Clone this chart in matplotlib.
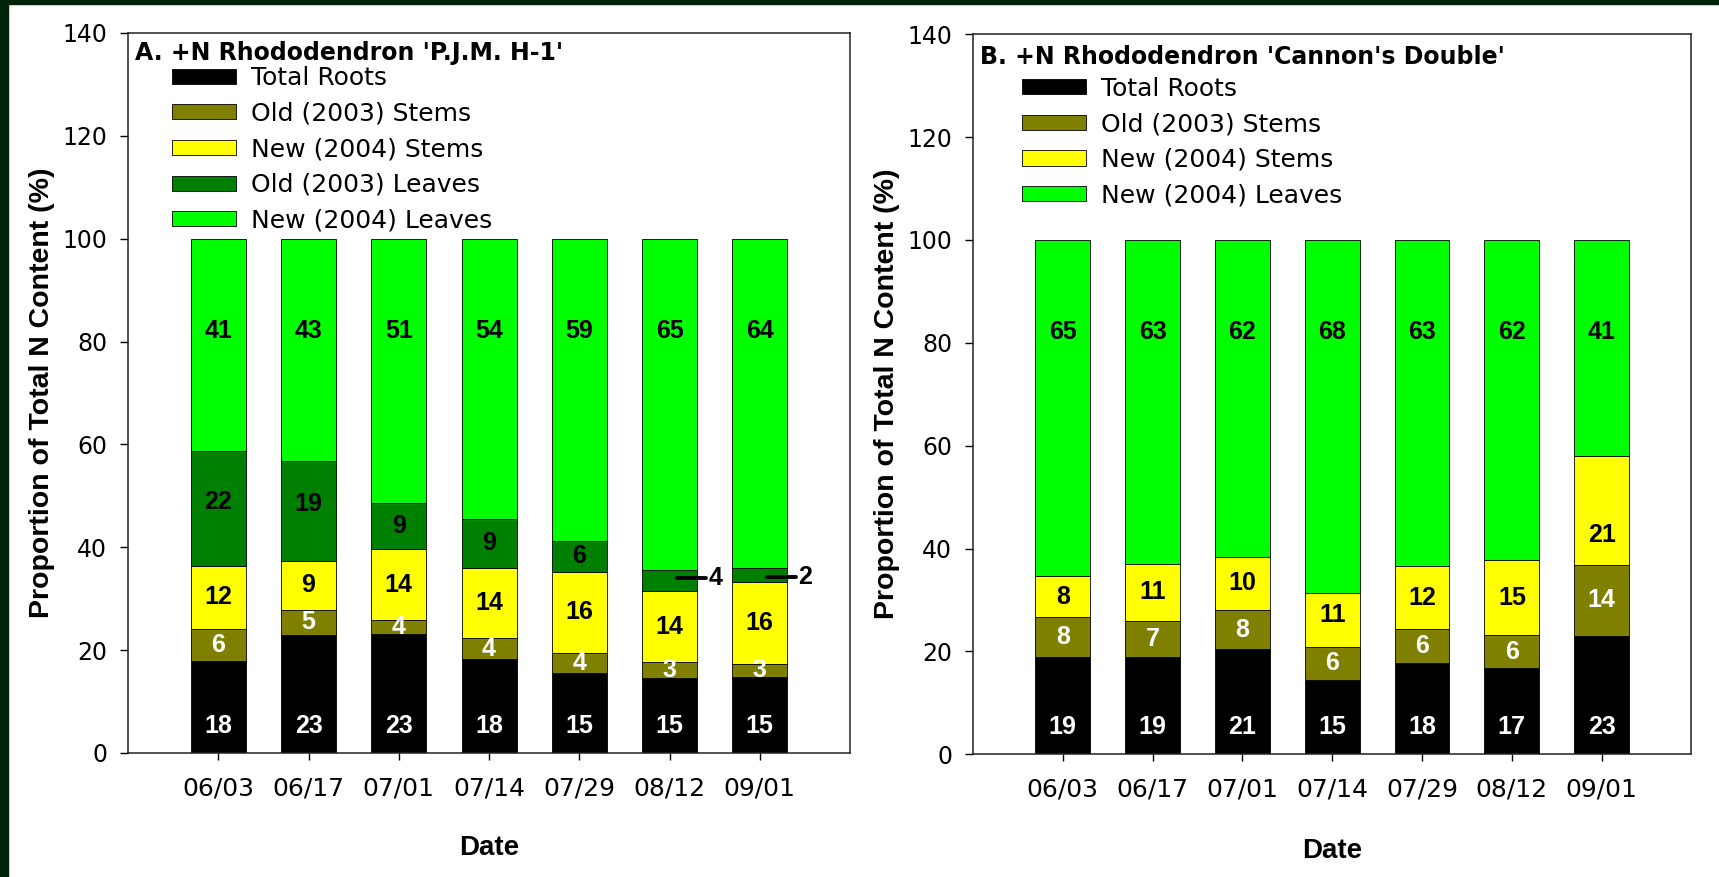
import matplotlib
matplotlib.use("Agg")
import matplotlib.pyplot as plt
from matplotlib.patches import Rectangle
import numpy as np


# --- data ---
dates = ["06/03", "06/17", "07/01", "07/14", "07/29", "08/12", "09/01"]

# panel A: Rhododendron 'P.J.M. H-1' (segment heights, %)
a_roots = [17.8, 22.9, 23.1, 18.2, 15.5, 14.6, 14.8]
a_old_stems = [6.4, 5.0, 2.7, 4.2, 4.0, 3.0, 2.6]
a_new_stems = [12.2, 9.4, 13.8, 13.6, 15.7, 13.9, 15.9]
a_old_leaves = [22.4, 19.4, 9.0, 9.5, 6.1, 4.0, 2.6]
a_new_leaves = [41.2, 43.3, 51.4, 54.5, 58.7, 64.5, 64.1]

# printed numbers on the bars
a_roots_lbl = [18, 23, 23, 18, 15, 15, 15]
a_old_stems_lbl = [6, 5, 4, 4, 4, 3, 3]
a_new_stems_lbl = [12, 9, 14, 14, 16, 14, 16]
a_old_leaves_lbl = [22, 19, 9, 9, 6, 4, 2]
a_new_leaves_lbl = [41, 43, 51, 54, 59, 65, 64]

# panel B: Rhododendron 'Cannon's Double'
b_roots = [18.9, 18.9, 20.4, 14.5, 17.8, 16.7, 23.0]
b_old_stems = [7.8, 7.1, 7.7, 6.3, 6.5, 6.4, 13.8]
b_new_stems = [7.9, 11.0, 10.2, 10.6, 12.3, 14.7, 21.2]
b_new_leaves = [65.4, 63.0, 61.7, 68.6, 63.4, 62.2, 42.0]

b_roots_lbl = [19, 19, 21, 15, 18, 17, 23]
b_old_stems_lbl = [8, 7, 8, 6, 6, 6, 14]
b_new_stems_lbl = [8, 11, 10, 11, 12, 15, 21]
b_new_leaves_lbl = [65, 63, 62, 68, 63, 62, 41]

COLORS = {
    "Total Roots": "#000000",
    "Old (2003) Stems": "#808000",
    "New (2004) Stems": "#FFFF00",
    "Old (2003) Leaves": "#008000",
    "New (2004) Leaves": "#00FF00",
}
LBL_COLOR = {
    "Total Roots": "white",
    "Old (2003) Stems": "white",
    "New (2004) Stems": "black",
    "Old (2003) Leaves": "black",
    "New (2004) Leaves": "black",
}

TICK_FONT = "DejaVu Sans"
BOLD_FONT = "Liberation Sans"


def draw_panel(ax, title, layers, outside=(), shift=None, title_y=0.962,
               leg_xy=(0.061, 0.954), date_y=-0.114):
    """layers: list of (name, heights, labels), bottom to top"""
    shift = shift or {}
    x = np.arange(len(dates))
    bottom = np.zeros(len(dates))
    n = len(layers)
    for k, (name, heights, labels) in enumerate(layers):
        h = np.array(heights)
        ax.bar(x, h, 0.61, bottom=bottom, color=COLORS[name], edgecolor="black",
               linewidth=0.6, label=name, zorder=2)
        for i in range(len(x)):
            if k == 0:
                yy = 5.2
            elif k == n - 1:
                yy = 82
            else:
                yy = bottom[i] + h[i] / 2
            yy += shift.get((name, i), 0)
            if (name, i) in outside:
                # small value: leader line and number beside the bar
                ax.plot([i + 0.085, i + 0.40], [yy, yy], color="black", lw=2.8,
                        solid_capstyle="round", zorder=3)
                ax.text(i + 0.43, yy, str(labels[i]), ha="left", va="center",
                        fontsize=18, fontweight="bold", family=BOLD_FONT, zorder=4)
            else:
                ax.text(i, yy, str(labels[i]), ha="center", va="center",
                        color=LBL_COLOR[name], fontsize=18, fontweight="bold",
                        family=BOLD_FONT, zorder=4)
        bottom = bottom + h

    ax.set_xlim(-1, 7)
    ax.set_ylim(0, 140)
    ax.set_yticks(range(0, 141, 20))
    ax.set_xticks(x)
    ax.set_xticklabels(dates)
    ax.tick_params(axis="y", direction="out", length=6, width=1, pad=9, labelsize=17)
    ax.tick_params(axis="x", direction="out", length=5, width=1, pad=12, labelsize=18)
    for lab in ax.get_xticklabels() + ax.get_yticklabels():
        lab.set_family(TICK_FONT)
    for sp in ax.spines.values():
        sp.set_linewidth(1.1)
        sp.set_color("#222222")

    ax.set_ylabel("Proportion of Total N Content (%)", fontsize=20.5, fontweight="bold",
                  family=BOLD_FONT)
    ax.yaxis.set_label_coords(-0.101, 0.5)
    ax.set_xlabel("Date", fontsize=20, fontweight="bold", family=BOLD_FONT)
    ax.xaxis.set_label_coords(0.5, date_y)

    ax.text(0.0097, title_y, title, transform=ax.transAxes, ha="left", va="baseline",
            fontsize=17, fontweight="bold", family="DejaVu Sans")

    ax.legend(loc="upper left", bbox_to_anchor=leg_xy, frameon=False,
              borderpad=0, borderaxespad=0, handlelength=2.56, handleheight=0.56,
              handletextpad=0.6, labelspacing=0.465,
              prop={"family": TICK_FONT, "size": 18})


fig = plt.figure(figsize=(17.19, 8.77), dpi=100)
fig.patch.set_facecolor("white")

ax_a = fig.add_axes([0.0745, 0.1414, 0.420, 0.821])
ax_b = fig.add_axes([0.566, 0.140, 0.418, 0.821])

draw_panel(ax_a, "A. +N Rhododendron 'P.J.M. H-1'",
           [("Total Roots", a_roots, a_roots_lbl),
            ("Old (2003) Stems", a_old_stems, a_old_stems_lbl),
            ("New (2004) Stems", a_new_stems, a_new_stems_lbl),
            ("Old (2003) Leaves", a_old_leaves, a_old_leaves_lbl),
            ("New (2004) Leaves", a_new_leaves, a_new_leaves_lbl)],
           outside={("Old (2003) Leaves", 5), ("Old (2003) Leaves", 6)},
           shift={("Old (2003) Leaves", 0): 1.3, ("Old (2003) Leaves", 1): 1.4,
                  ("Old (2003) Leaves", 5): 0.6, ("Old (2003) Leaves", 6): -0.4},
           title_y=0.962, leg_xy=(0.061, 0.954), date_y=-0.114)

draw_panel(ax_b, "B. +N Rhododendron 'Cannon's Double'",
           [("Total Roots", b_roots, b_roots_lbl),
            ("Old (2003) Stems", b_old_stems, b_old_stems_lbl),
            ("New (2004) Stems", b_new_stems, b_new_stems_lbl),
            ("New (2004) Leaves", b_new_leaves, b_new_leaves_lbl)],
           shift={("New (2004) Stems", 6): -4.7, ("New (2004) Stems", 3): 1.0},
           title_y=0.958, leg_xy=(0.068, 0.941), date_y=-0.117)

# dark green frame on the left and top edge of the slide
fig.add_artist(Rectangle((0, 0), 8 / 1719, 1, transform=fig.transFigure,
                         color="#002208", zorder=10))
fig.add_artist(Rectangle((0, 1 - 4 / 877), 1, 4 / 877, transform=fig.transFigure,
                         color="#002208", zorder=10))

fig.savefig("out.png", dpi=100, facecolor="white")
